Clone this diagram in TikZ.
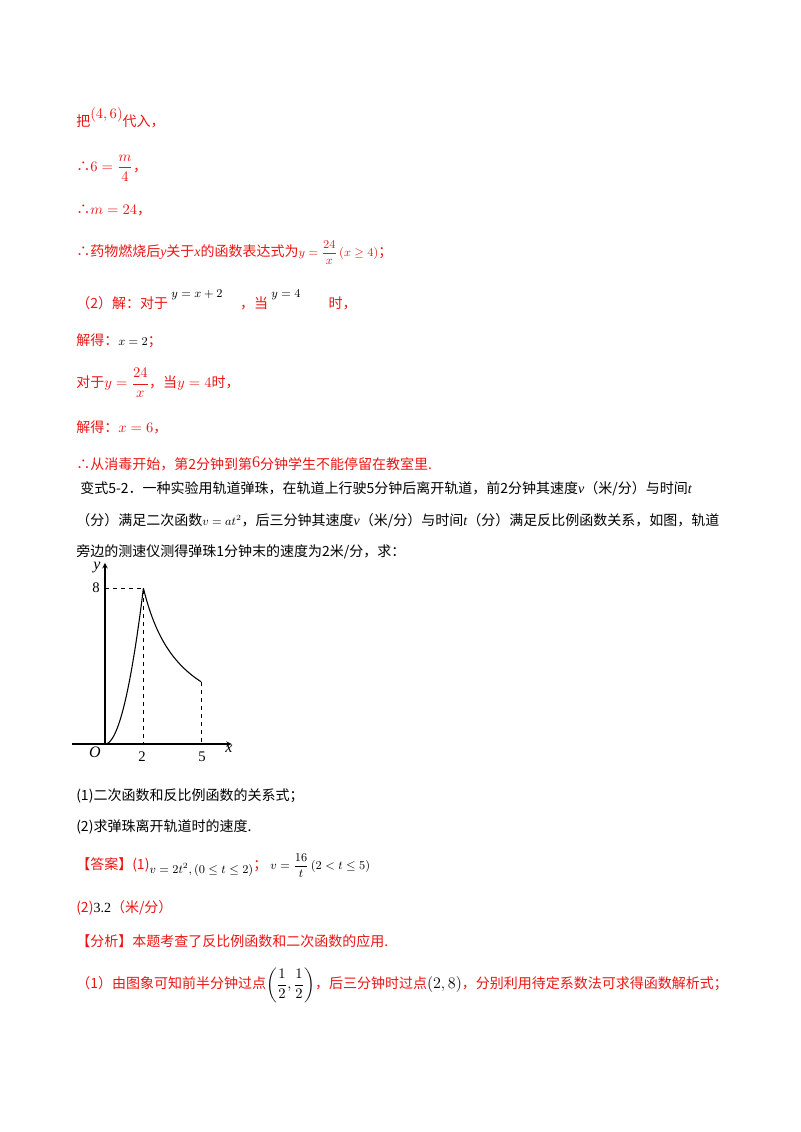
\documentclass[tikz,border=0pt]{standalone}
\usepackage{fontspec}
\usepackage{amsmath}
\setmainfont{Liberation Serif}
\newfontfamily\cjk{Noto Sans CJK SC}
\definecolor{rd}{RGB}{235,20,20}
\begin{document}
\begin{tikzpicture}[x=0.75pt,y=-0.75pt,
  tx/.style={anchor=west,inner sep=0pt,font=\fontsize{10.5}{12}\selectfont\cjk},
  rt/.style={tx,text=rd},
  lab/.style={inner sep=0pt,font=\fontsize{11}{12}\selectfont}]
\useasboundingbox (0,0) rectangle (800,1132);
\node[rt] (l1) at (76,118) {把\raisebox{6pt}{\rmfamily$(4,6)$}代入，};
\node[rt] (l2) at (76,168) {∴{\rmfamily $6=\dfrac{m}{4}$}，};
\node[rt] (l3) at (76,210) {∴{\rmfamily $m=24$}，};
\node[rt] (l4) at (76,253) {∴药物燃烧后{\rmfamily\itshape y}关于{\rmfamily\itshape x}的函数表达式为{\rmfamily\small $y=\dfrac{24}{x}\left(x\ge 4\right)$}；};
\node[rt] (l5) at (76,300) {（2）解：对于\raisebox{8pt}{\rmfamily\small\color{black}$\;y=x+2\;$}\quad ，当\raisebox{8pt}{\rmfamily\small\color{black}$\;y=4$}\qquad 时，};
\node[rt] (l6) at (76,341) {解得：{\rmfamily\small\color{black} $x=2$}；};
\node[rt] (l7) at (76,383) {对于{\rmfamily $y=\dfrac{24}{x}$}，当{\rmfamily $y=4$}时，};
\node[rt] (l8) at (76,427) {解得：{\rmfamily $x=6$}，};
\node[rt] (l9) at (76,464) {∴从消毒开始，第2分钟到第\raisebox{2pt}{\rmfamily\large 6}分钟学生不能停留在教室里.};
\node[tx] (b1) at (80,489) {变式5-2．一种实验用轨道弹珠，在轨道上行驶5分钟后离开轨道，前2分钟其速度{\rmfamily\itshape v}（米/分）与时间{\rmfamily\itshape t}};
\node[tx] (b2) at (76,521) {（分）满足二次函数{\rmfamily\small $v=at^2$}，后三分钟其速度{\rmfamily\itshape v}（米/分）与时间{\rmfamily\itshape t}（分）满足反比例函数关系，如图，轨道};
\node[tx] (b3) at (76,552) {旁边的测速仪测得弹珠1分钟末的速度为2米/分，求：};
% graph
\begin{scope}[shift={(105,744)},x=14.4pt,y=14.6pt]
\coordinate (o) at (0,0);
\coordinate (xe) at (6.6,0); \coordinate (xs) at (-1.7,0);
\coordinate (ye) at (0,9.3);
\draw[->,>=stealth,thick] (xs) -- (xe);
\draw[->,>=stealth,thick] (o) -- (ye);
\draw[thick] plot[domain=0:2,samples=40] (\x,{2*\x*\x});
\draw[thick] plot[domain=2:5,samples=40] (\x,{16/\x});
\draw[dashed] (0,8) -- (2,8) -- (2,0);
\draw[dashed] (5,3.2) -- (5,0);
\end{scope}
\node[lab,font=\fontsize{12}{12}\selectfont\itshape] (ly) at (97,568) {y};
\node[lab] (l8n) at (96,588) {8};
\node[lab,font=\fontsize{12}{12}\selectfont\itshape] (lo) at (95,752) {O};
\node[lab] (l2n) at (142,757) {2};
\node[lab] (l5n) at (202,757) {5};
\node[lab,font=\fontsize{12}{12}\selectfont\itshape] (lx) at (229,749) {x};
\node[tx] (q1) at (76,796) {(1)二次函数和反比例函数的关系式；};
\node[tx] (q2) at (76,827) {(2)求弹珠离开轨道时的速度.};
\node[rt] (a1) at (76,866) {【答案】(1)\raisebox{-3pt}{\rmfamily\small\color{black}$v=2t^2,(0\le t\le 2)$}；\ {\rmfamily\small\color{black}$v=\dfrac{16}{t}\,(2<t\le 5)$}};
\node[rt] (a2) at (76,908) {(2){\rmfamily\color{black} 3.2}（米/分）};
\node[rt] (a3) at (76,941) {【分析】本题考查了反比例函数和二次函数的应用.};
\node[rt] (a4) at (76,985) {（1）由图象可知前半分钟过点{\rmfamily\color{black}$\left(\dfrac12,\dfrac12\right)$}，后三分钟时过点{\rmfamily\large\color{black}$(2,8)$}，分别利用待定系数法可求得函数解析式；};
\end{tikzpicture}
\end{document}
